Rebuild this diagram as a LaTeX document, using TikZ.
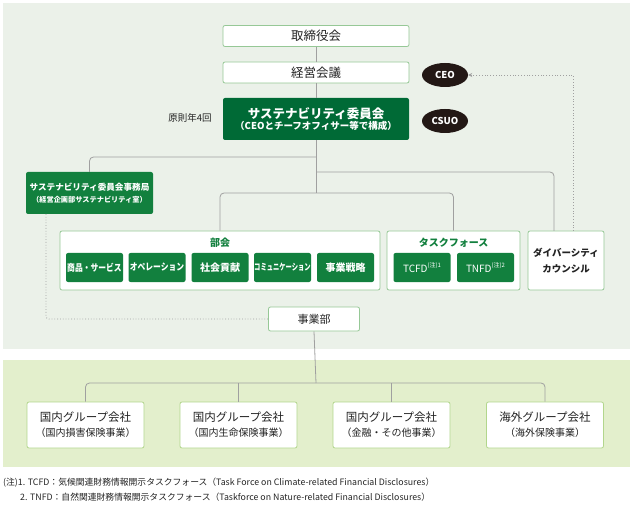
\documentclass[tikz,border=0pt]{standalone}
\usepackage{fontspec}
\setmainfont{Noto Sans CJK JP}
\usetikzlibrary{shapes.geometric,arrows.meta}
\definecolor{topbg}{RGB}{235,241,233}
\definecolor{botbg}{RGB}{227,239,204}
\definecolor{dkgreen}{RGB}{0,106,54}
\definecolor{mdgreen}{RGB}{18,128,62}
\definecolor{bordergreen}{RGB}{150,200,150}
\definecolor{grpborder}{RGB}{178,214,140}
\definecolor{linegray}{RGB}{160,160,160}
\definecolor{ceoblack}{RGB}{35,24,21}
\definecolor{txtdark}{RGB}{35,35,35}
\tikzset{
  whitebox/.style={draw=bordergreen, fill=white, rounded corners=2pt, line width=0.8pt, inner sep=0pt, text=txtdark, align=center},
  grpbox/.style={draw=grpborder, fill=white, rounded corners=2pt, line width=0.8pt, inner sep=0pt, text=txtdark, align=center, minimum width=117pt, minimum height=46pt, font=\fontsize{11.5}{15}\selectfont},
  dkbox/.style={fill=dkgreen, rounded corners=2pt, inner sep=0pt, text=white, align=center},
  childbox/.style={fill=mdgreen, rounded corners=2pt, inner sep=0pt, text=white, align=center, minimum width=57pt, minimum height=29pt, font=\bfseries\fontsize{9.5}{10}\selectfont},
  blackoval/.style={ellipse, fill=ceoblack, text=white, inner sep=0pt, minimum width=46pt, minimum height=24pt, font=\bfseries\fontsize{9.5}{11}\selectfont},
  conn/.style={draw=linegray, line width=0.8pt},
  dotconn/.style={draw=linegray, line width=0.8pt, dotted},
  greenlabel/.style={text=mdgreen, font=\bfseries\fontsize{10}{12}\selectfont, inner sep=0pt},
  fnote/.style={anchor=west, inner sep=0pt, text=txtdark, font=\fontsize{8.8}{10}\selectfont}
}
\begin{document}
\begin{tikzpicture}[x=1pt,y=-1pt]
\useasboundingbox (0,0) rectangle (632,505);
% backgrounds
\fill[topbg] (3,3) rectangle (630,349);
\fill[botbg] (3,360) rectangle (630,467);

% top nodes
\node[whitebox, minimum width=186pt, minimum height=21pt, font=\fontsize{12.5}{14}\selectfont] (tori) at (316,36) {取締役会};
\node[whitebox, minimum width=186pt, minimum height=21pt, font=\fontsize{12.5}{14}\selectfont] (keiei) at (316,72.5) {経営会議};
\node[dkbox, minimum width=186pt, minimum height=42pt] (iinkai) at (316,119)
  {{\bfseries\fontsize{12.5}{15}\selectfont サステナビリティ委員会}\\[-1pt]{\bfseries\fontsize{9.5}{12}\selectfont （CEOとチーフオフィサー等で構成）}};
\node[blackoval] (ceo) at (445,75) {CEO};
\node[blackoval] (csuo) at (445,121) {CSUO};
\node[text=txtdark, font=\fontsize{9.5}{11}\selectfont, inner sep=0pt] (gensoku) at (190,118) {原則年4回};

% secretariat
\node[childbox, minimum width=127pt, minimum height=42pt, font=\bfseries] (jimu) at (89.5,193)
  {{\fontsize{8.6}{11}\selectfont サステナビリティ委員会事務局}\\{\fontsize{7.2}{10}\selectfont （経営企画部サステナビリティ室）}};

% bukai frame
\node[whitebox, minimum width=320pt, minimum height=59pt] (bukai) at (220,260.5) {};
\node[greenlabel] (bukailbl) at (220,243) {部会};
\node[childbox] (c1) at (94.5,267.5) {\scalebox{0.82}[1]{商品・サービス}};
\node[childbox] (c2) at (157,267.5) {\scalebox{0.82}[1]{オペレーション}};
\node[childbox, font=\bfseries\fontsize{10}{10}\selectfont] (c3) at (220,267.5) {社会貢献};
\node[childbox, font=\bfseries\fontsize{9}{10}\selectfont] (c4) at (282.5,267.5) {\scalebox{0.7}[1]{コミュニケーション}};
\node[childbox, font=\bfseries\fontsize{10}{10}\selectfont] (c5) at (345.5,267.5) {事業戦略};

% task force frame
\node[whitebox, minimum width=133pt, minimum height=59pt] (tf) at (453.5,260.5) {};
\node[greenlabel] (tflbl) at (453.5,243) {タスクフォース};
\node[childbox, font=\fontsize{10}{10}\selectfont] (tcfd) at (422,267.5) {TCFD\raisebox{4.5pt}{\fontsize{6}{6}\selectfont (注)1}};
\node[childbox, font=\fontsize{10}{10}\selectfont] (tnfd) at (485.5,267.5) {TNFD\raisebox{4.5pt}{\fontsize{6}{6}\selectfont (注)2}};

% diversity
\node[whitebox, minimum width=76pt, minimum height=59pt, font=\bfseries\fontsize{9.5}{16}\selectfont] (div) at (566,260.5) {ダイバーシティ\\カウンシル};

% business division
\node[whitebox, minimum width=91pt, minimum height=24pt, font=\fontsize{11}{13}\selectfont] (jigyo) at (314,319) {事業部};

% group companies
\node[grpbox] (g1) at (85.5,425) {国内グループ会社\\{\fontsize{10}{13}\selectfont （国内損害保険事業）}};
\node[grpbox] (g2) at (238.5,425) {国内グループ会社\\{\fontsize{10}{13}\selectfont （国内生命保険事業）}};
\node[grpbox] (g3) at (391.5,425) {国内グループ会社\\{\fontsize{10}{13}\selectfont （金融・その他事業）}};
\node[grpbox] (g4) at (545,425) {海外グループ会社\\{\fontsize{10}{13}\selectfont （海外保険事業）}};

% footnotes
\node[fnote] (fn1) at (3,483) {(注)1. TCFD：気候関連財務情報開示タスクフォース（Task Force on Climate-related Financial Disclosures）};
\node[fnote] (fn2) at (20,497) {2. TNFD：自然関連財務情報開示タスクフォース（Taskforce on Nature-related Financial Disclosures）};

% connector coordinates
\coordinate (b1) at (316,157);
\coordinate (b2) at (316,172);
\coordinate (b3) at (316,193);
\coordinate (b4) at (316,383);
\coordinate (divin) at (554,231);
\coordinate (divdot) at (573,231);
\coordinate (jimudot) at (46,214);

\draw[conn] (tori.south) -- (keiei.north);
\draw[conn] (keiei.south) -- (iinkai.north);
\draw[conn] (iinkai.south) -- (b3);
\draw[conn, rounded corners=4pt] (b1) -| (jimu.north);
\draw[conn, rounded corners=4pt] (b2) -| (divin);
\draw[conn, rounded corners=4pt] (bukai.north) |- (b3) -| (tf.north);
\draw[dotconn, -{Stealth[length=4pt,width=4pt]}] (divdot) |- (ceo.east);
\draw[dotconn, rounded corners=3pt] (jimudot) |- (jigyo.west);
\draw[conn] (jigyo.south) -- (b4);
\draw[conn, rounded corners=4pt] (g1.north) |- (b4) -| (g4.north);
\draw[conn] (g2.north) -- (g2.north |- b4);
\draw[conn] (g3.north) -- (g3.north |- b4);
\end{tikzpicture}
\end{document}
